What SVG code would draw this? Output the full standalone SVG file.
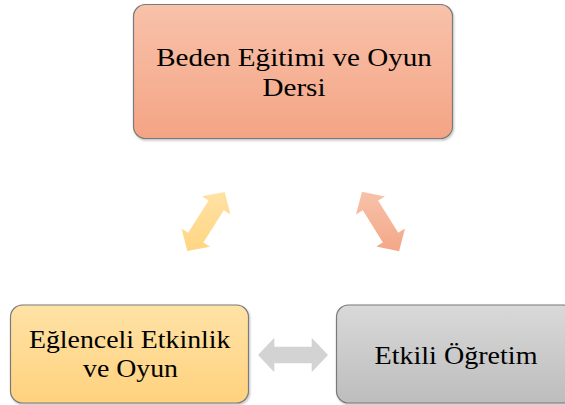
<svg xmlns="http://www.w3.org/2000/svg" width="565" height="405" viewBox="0 0 565 405">
  <defs>
    <linearGradient id="gSalmon" x1="0" y1="0" x2="0" y2="1">
      <stop offset="0" stop-color="#f8c2aa"/>
      <stop offset="1" stop-color="#f4a484"/>
    </linearGradient>
    <linearGradient id="gYellow" x1="0" y1="0" x2="0" y2="1">
      <stop offset="0" stop-color="#ffe2a6"/>
      <stop offset="1" stop-color="#ffd27e"/>
    </linearGradient>
    <linearGradient id="gGray" x1="0" y1="0" x2="0" y2="1">
      <stop offset="0" stop-color="#d9d9d9"/>
      <stop offset="1" stop-color="#bdbdbd"/>
    </linearGradient>
    <linearGradient id="gArrowY" gradientUnits="userSpaceOnUse" x1="0" y1="190" x2="0" y2="253">
      <stop offset="0" stop-color="#ffe2a4"/>
      <stop offset="1" stop-color="#ffd582"/>
    </linearGradient>
    <linearGradient id="gArrowS" gradientUnits="userSpaceOnUse" x1="0" y1="190" x2="0" y2="253">
      <stop offset="0" stop-color="#f7c3ab"/>
      <stop offset="1" stop-color="#f4a686"/>
    </linearGradient>
    <filter id="shadow" x="-10%" y="-10%" width="120%" height="125%">
      <feDropShadow dx="1" dy="1.5" stdDeviation="1" flood-color="#000" flood-opacity="0.25"/>
    </filter>
  </defs>
  <style>
    .box { stroke: #7a7a7a; stroke-width: 1.2; filter: url(#shadow); }
    text { font-family: "Liberation Serif", "DejaVu Serif", serif; font-size: 26px; fill: #000; text-anchor: middle; }
  </style>

  <rect width="565" height="405" fill="#ffffff"/>

  <!-- connectors -->
  <g id="connectors">
    <polygon fill="url(#gArrowY)" points="187.3,251.1 181.5,228.5 188.2,232.7 208.6,200.6 201.8,196.3 224.7,191.9 230.5,214.5 223.8,210.3 203.4,242.4 210.2,246.7"/>
    <polygon fill="url(#gArrowS)" points="362.0,191.8 384.9,196.4 378.1,200.6 398.2,232.8 405.0,228.6 399.1,251.2 376.2,246.6 382.9,242.4 362.8,210.2 356.0,214.4"/>
    <polygon fill="#d3d3d3" points="258,355 274.3,337.7 274.3,346.7 311.7,346.7 311.7,337.7 328,355 311.7,372.3 311.7,363.3 274.3,363.3 274.3,372.3"/>
  </g>

  <!-- top node -->
  <g id="node-beden">
    <rect class="box" x="133.5" y="4.5" width="319" height="134" rx="12" fill="url(#gSalmon)"/>
    <text transform="translate(294 65.5) scale(1.12 1)">Beden Eğitimi ve Oyun</text>
    <text transform="translate(294 96) scale(1.12 1)">Dersi</text>
  </g>

  <!-- bottom-left node -->
  <g id="node-eglenceli">
    <rect class="box" x="10.5" y="305" width="238" height="98" rx="12" fill="url(#gYellow)"/>
    <text transform="translate(129.7 348.3) scale(1.07 1)">Eğlenceli Etkinlik</text>
    <text transform="translate(130.5 377.3) scale(1.07 1)">ve Oyun</text>
  </g>

  <!-- bottom-right node -->
  <g id="node-etkili">
    <rect class="box" x="336.5" y="305" width="239" height="98" rx="12" fill="url(#gGray)"/>
    <text transform="translate(456 364) scale(1.08 1)">Etkili Öğretim</text>
  </g>
</svg>
